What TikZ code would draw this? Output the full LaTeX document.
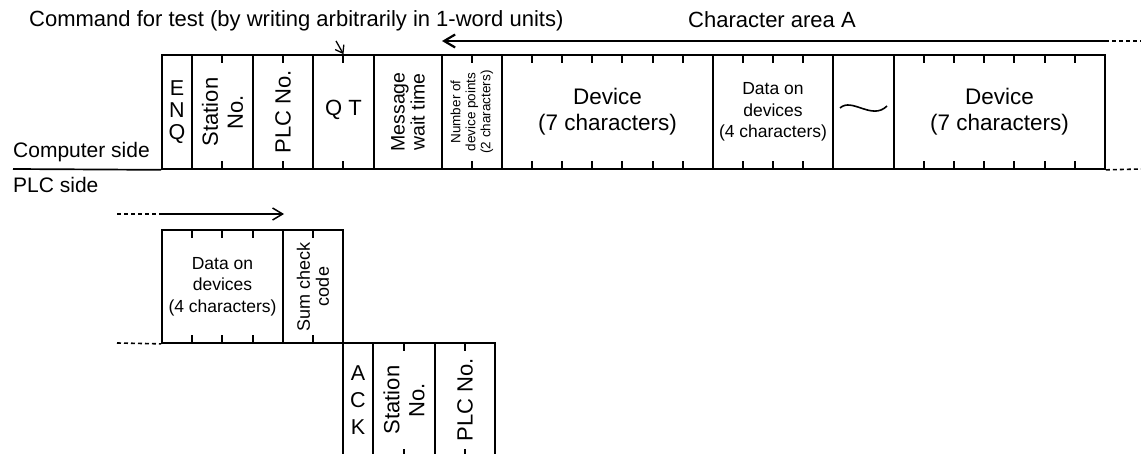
\documentclass[tikz,border=0pt]{standalone}
\usepackage{fontspec}
\setmainfont{Liberation Sans}
\usetikzlibrary{arrows.meta}

\newcommand{\fsz}[2]{\fontsize{#1}{#2}\selectfont}

\begin{document}
\begin{tikzpicture}[x=1pt, y=-1pt,
  field/.style={draw, line width=1.7pt, inner sep=0pt, align=center, minimum height=114pt},
  vfield/.style={draw, line width=1.7pt, inner sep=0pt, align=center, rotate=90, minimum width=114pt},
  lbl/.style={inner sep=0pt, font=\fsz{22}{25}},
  sidelbl/.style={inner sep=0pt, font=\fsz{21}{25}},
  tickmark/.style={line width=1.4pt},
  dots/.style={line width=1.6pt, dash pattern=on 4pt off 3pt},
  arr/.style={line width=1.5pt, -{Straight Barb[length=10pt,width=12pt]}},
  areaarr/.style={line width=2.2pt, -{Straight Barb[length=11pt,width=13pt]}},
  cmdarr/.style={line width=1.3pt, -{Straight Barb[length=7pt,width=10pt]}}
]
\useasboundingbox (0,0) rectangle (1141,454);
\clip (0,0) rectangle (1141,454);

% textos de cima
\node[lbl, anchor=base west] (cmdtxt) at (29,27) {Command for test (by writing arbitrarily in 1-word units)};
\node[lbl, anchor=base] (areatxt) at (772,28) {Character area A};
\node[sidelbl, anchor=base west] (comptxt) at (13,158) {Computer side};
\node[sidelbl, anchor=base west] (plctxt) at (13,193) {PLC side};

% campos do lado do computador
\node[field, minimum width=30pt, font=\fsz{21.5}{22}] (enq) at (177,112) {E\\N\\Q};
\node[vfield, minimum height=61pt, font=\fsz{22}{25}] (stno) at (222.5,112) {Station\\No.};
\node[vfield, minimum height=60pt, font=\fsz{22}{25}] (plcno) at (283,112) {PLC No.};
\node[field, minimum width=61pt, font=\fsz{22}{25}] (qt) at (343.5,112) {\raisebox{8pt}{Q T}};
\node[vfield, minimum height=68pt, font=\fsz{19.5}{20}] (msgwait) at (408,112) {Message\\wait time};
\node[vfield, minimum height=60pt, font=\fsz{13.5}{15}] (npoints) at (472,112) {Number of\\device points\\(2 characters)};
\node[field, minimum width=211pt, font=\fsz{22.5}{26}] (device) at (607.5,112) {Device\\(7 characters)};
\node[field, minimum width=120pt, font=\fsz{17.5}{21.5}] (devdata) at (773,112) {Data on\\devices\\(4 characters)};
\node[field, minimum width=61pt] (gap) at (863.5,112) {};
\node[field, minimum width=211pt, font=\fsz{22.5}{26}] (devlast) at (999.5,112) {Device\\(7 characters)};

% marcas de caractere
\foreach \x in {222,283,343,472,532,562,592,622,653,683,743,773,803,924,954,984,1014,1045,1075} {
  \draw[tickmark] (\x,55) -- ++(0,8);
  \draw[tickmark] (\x,169) -- ++(0,-8);
}

% til no campo vazio
\draw[line width=1.6pt] (840,108) .. controls (852,97) and (872,121) .. (887,106);

% linha de base e continuacoes
\coordinate (basestart) at (13,169);
\draw[line width=1.7pt] (basestart) -- (enq.south west);
\draw[dots] (devlast.south east) -- (1141,169);
\coordinate (areaend) at (1105,41);
\coordinate (areatip) at (442,41);
\draw[areaarr] (areaend) -- (areatip);
\draw[dots] (areaend) -- (1141,41);
\coordinate (cmdfrom) at (336,41);
\draw[cmdarr] (cmdfrom) -- (qt.north);

% resposta do lado do PLC
\coordinate (retstart) at (117,214);
\coordinate (retmid) at (162,214);
\coordinate (retend) at (284,214);
\draw[dots] (retstart) -- (retmid);
\draw[arr] (retmid) -- (retend);
\node[field, minimum width=121pt, minimum height=113pt, font=\fsz{17.5}{21.5}] (retdata) at (222.5,286.5) {Data on\\devices\\(4 characters)};
\node[vfield, minimum height=60pt, minimum width=113pt, font=\fsz{18}{19}] (sumchk) at (313,286.5) {Sum check\\code};
\draw[dots] (117,343) -- (retdata.south west);
\foreach \x in {192,222,253,313} {
  \draw[tickmark] (\x,230) -- ++(0,8);
  \draw[tickmark] (\x,343) -- ++(0,-8);
}

% ACK final
\node[field, minimum width=30pt, font=\fsz{21.5}{27}] (ack) at (358,400) {A\\C\\K};
\node[vfield, minimum height=62pt, font=\fsz{22}{25}] (ackstno) at (404,400) {Station\\No.};
\node[vfield, minimum height=60pt, font=\fsz{22}{25}] (ackplcno) at (465,400) {PLC No.};
\foreach \x in {404,465} {
  \draw[tickmark] (\x,343) -- ++(0,8);
  \draw[tickmark] (\x,457) -- ++(0,-8);
}

\end{tikzpicture}
\end{document}
